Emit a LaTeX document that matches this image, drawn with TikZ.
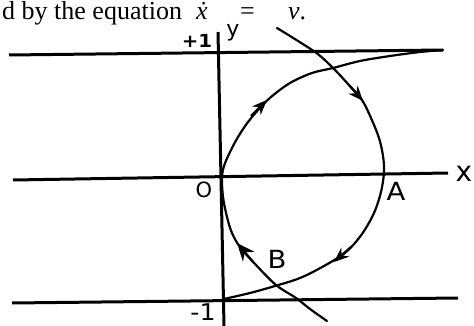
\documentclass[tikz,border=0pt]{standalone}
\usepackage{fontspec}
\setmainfont{Liberation Serif}
\newfontfamily\hand[FakeStretch=1.1]{DejaVu Sans}
\newfontfamily\handn{DejaVu Sans}
\usetikzlibrary{arrows.meta}
\begin{document}
\begin{tikzpicture}[x=1pt,y=-1pt,
  axisline/.style={line width=3pt},
  traj/.style={line width=2.2pt, line join=round, line cap=round},
  tipline/.style={-{Stealth[length=15pt,width=12pt]}, line width=2.2pt},
  lab/.style={font=\hand\fontsize{25}{25}\selectfont, inner sep=0pt},
  txt/.style={font=\fontsize{26}{30}\selectfont, inner sep=0pt, anchor=base west}]
\useasboundingbox (0,0) rectangle (474,326);
% top text
\node[txt] (t1) at (2,20) {d by the equation};
\node[txt] (t2) at (196,20) {\textit{\.x}};
\node[txt] (t3) at (240,20) {=};
\node[txt] (t4) at (288,20) {\textit{v}.};
% lines
\coordinate (tl) at (9,55);   \coordinate (tr) at (443,50);
\coordinate (xl) at (13,180); \coordinate (xr) at (448,173);
\coordinate (bl) at (12,303); \coordinate (br) at (458,298);
\coordinate (yt) at (218,32); \coordinate (yb) at (224,326);
\draw[axisline] (tl) -- (tr);
\draw[axisline] (xl) -- (xr);
\draw[axisline] (bl) -- (br);
\draw[axisline] (yt) -- (yb);
% curve A (downward)
\draw[traj] plot[smooth, tension=0.55] coordinates {(277,28) (315,52) (333,68) (348,84) (362,100) (371,118) (379,138) (383,156) (384,172) (381,192) (374,213) (362,234) (346,252) (324,266) (300,278) (275,286) (250,293) (224,299)};
% curve B (upward)
\draw[traj] plot[smooth, tension=0.55] coordinates {(327,321) (310,309) (296,298) (276,285) (256,265) (240,247) (232,233) (227,217) (223,197) (222,178) (224,166) (230,152) (238,137) (248,122) (259,109) (271,97) (290,83) (312,73) (333,68) (360,61) (390,56) (420,52) (443,50)};
% arrowheads
\coordinate (a1s) at (349,85);  \coordinate (a1e) at (363,101);
\coordinate (a2s) at (251,116); \coordinate (a2e) at (267,100);
\coordinate (a3s) at (351,247); \coordinate (a3e) at (334,262);
\coordinate (a4s) at (254,263); \coordinate (a4e) at (237,243);
\draw[tipline] (a1s) -- (a1e);
\draw[tipline] (a2s) -- (a2e);
\draw[tipline] (a3s) -- (a3e);
\draw[tipline, -{Stealth[length=18pt,width=15pt]}] (a4s) -- (a4e);
% labels
\node[lab, font=\hand\bfseries\fontsize{18}{18}\selectfont] (p1) at (197,41) {+1};
\node[lab, font=\handn\fontsize{22}{22}\selectfont] (ly) at (233,33) {y};
\node[lab, font=\handn\fontsize{28}{28}\selectfont] (lx) at (464,174) {x};
\node[lab, font=\handn\fontsize{21}{21}\selectfont] (lO) at (204,190) {O};
\node[lab] (lA) at (396,191) {A};
\node[lab] (lB) at (277,259) {B};
\node[lab, font=\hand\fontsize{23}{23}\selectfont] (m1) at (203,312) {-1};
\end{tikzpicture}
\end{document}
